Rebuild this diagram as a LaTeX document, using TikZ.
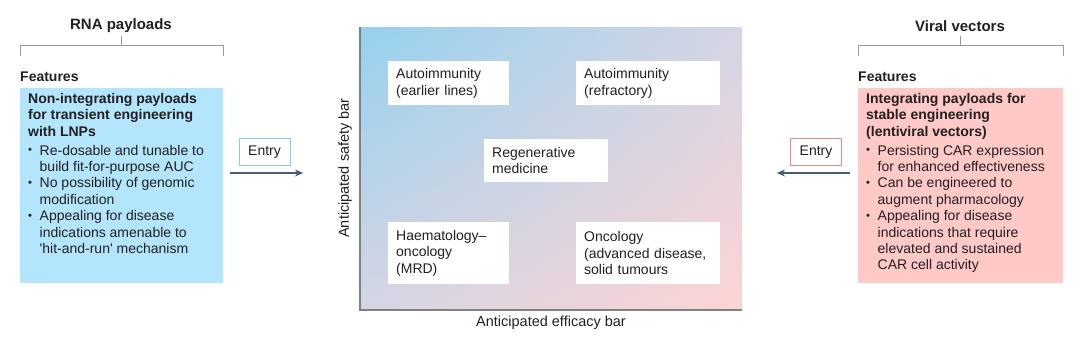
\documentclass[tikz,border=0pt]{standalone}
\usepackage{fontspec}
\setmainfont{Liberation Sans}
\usepackage{xcolor}
\definecolor{rnablue}{HTML}{B3E5FC}
\definecolor{viralpink}{HTML}{FFC9C7}
\definecolor{shadeblue}{HTML}{95D1EE}
\definecolor{shadepink}{HTML}{FDD4D3}
\definecolor{shademid}{HTML}{D5D5E4}
\definecolor{arrowslate}{HTML}{4A5B78}
\definecolor{entryblue}{HTML}{8CCBEA}
\definecolor{entryred}{HTML}{E8878A}
\definecolor{textdark}{HTML}{231F20}
\usetikzlibrary{arrows.meta, positioning, shadings}

\newcommand{\bul}{\makebox[11.5pt][l]{\raisebox{0.15ex}{\scalebox{0.8}{\textbullet}}}}
\newcommand{\ind}{\hspace*{11.5pt}}

\begin{document}
\begin{tikzpicture}[x=1pt, y=-1pt,
  txt/.style={font=\fontsize{14}{16.4}\selectfont, text=textdark},
  title/.style={font=\fontsize{15}{17}\selectfont\bfseries, text=textdark},
  subtitle/.style={font=\fontsize{14}{16}\selectfont\bfseries, text=textdark, anchor=south west, inner sep=0pt},
  featbox/.style={anchor=north west, minimum width=203pt, minimum height=195pt, inner sep=0pt},
  feattext/.style={txt, anchor=north west, inner xsep=8pt, inner ysep=5pt, align=left},
  quad/.style={txt, fill=white, anchor=north west, inner xsep=8pt, inner ysep=0pt, align=left},
  entrybox/.style={txt, draw, thick, fill=white, minimum width=51pt, minimum height=27pt, inner sep=0pt,
                   text height=10pt, text depth=1.5pt},
  arr/.style={-{Stealth[length=8pt, width=7pt]}, line width=1.6pt, arrowslate},
  brk/.style={draw=gray!80, line width=0.9pt},
  axisline/.style={draw=gray, line width=1.6pt},
  axislabel/.style={font=\fontsize{14.5}{16}\selectfont, text=textdark}
]
\useasboundingbox (0,0) rectangle (1080,341);

% left column
\node[title] (rnatitle) at (121,26) {RNA payloads};
\draw[brk] (121,36) -- (121,45) (20,56) -- (20,45) -- (223,45) -- (223,56);
\node[subtitle] (rnafeat) at (20,82) {Features};
\node[featbox, fill=rnablue] (rnabox) at (20,88) {};
\node[feattext] (rnatext) at (rnabox.north west) {%
  \textbf{Non-integrating payloads}\\
  \textbf{for transient engineering}\\
  \textbf{with LNPs}\\[2.5pt]
  \bul Re-dosable and tunable to\\
  \ind build fit-for-purpose AUC\\
  \bul No possibility of genomic\\
  \ind modification\\
  \bul Appealing for disease\\
  \ind indications amenable to\\
  \ind \textquotesingle hit-and-run\textquotesingle\ mechanism};

\node[entrybox, draw=entryblue] (entryL) at (264.5,151.5) {Entry};
\coordinate (arrLstart) at (230,173);
\coordinate (arrLend) at (303,173);
\draw[arr] (arrLstart) -- (arrLend);

% centre chart
\shade[upper left=shadeblue, lower right=shadepink, upper right=shademid, lower left=shademid]
  (360,27) rectangle (742,310);
\draw[axisline] (360,27) -- (360,310) -- (742,310);

\node[quad, text width=105pt, minimum height=44pt] (autoearly) at (388,61) {Autoimmunity\\(earlier lines)};
\node[quad, text width=128pt, minimum height=44pt] (autorefr) at (576,61) {Autoimmunity\\(refractory)};
\node[quad, text width=108pt, minimum height=43pt] (regen) at (484,139) {Regenerative\\medicine};
\node[quad, text width=105pt, minimum height=62pt] (haem) at (388,222) {Haematology--\\oncology\\(MRD)};
\node[quad, text width=128pt, minimum height=62pt] (onco) at (576,222) {Oncology\\(advanced disease,\\solid tumours};

\node[axislabel, rotate=90] (safety) at (345,168) {Anticipated safety bar};
\node[axislabel] (efficacy) at (551,323) {Anticipated efficacy bar};

% right column
\node[title] (viraltitle) at (960,26) {Viral vectors};
\draw[brk] (960,36) -- (960,45) (858,56) -- (858,45) -- (1063,45) -- (1063,56);
\node[subtitle] (viralfeat) at (858,82) {Features};
\node[featbox, fill=viralpink, minimum width=205pt] (viralbox) at (858,88) {};
\node[feattext] (viraltext) at (viralbox.north west) {%
  \textbf{Integrating payloads for}\\
  \textbf{stable engineering}\\
  \textbf{(lentiviral vectors)}\\[2.5pt]
  \bul Persisting CAR expression\\
  \ind for enhanced effectiveness\\
  \bul Can be engineered to\\
  \ind augment pharmacology\\
  \bul Appealing for disease\\
  \ind indications that require\\
  \ind elevated and sustained\\
  \ind CAR cell activity};

\node[entrybox, draw=entryred] (entryR) at (816,151.5) {Entry};
\coordinate (arrRstart) at (850,173);
\coordinate (arrRend) at (777,173);
\draw[arr] (arrRstart) -- (arrRend);
\end{tikzpicture}
\end{document}
